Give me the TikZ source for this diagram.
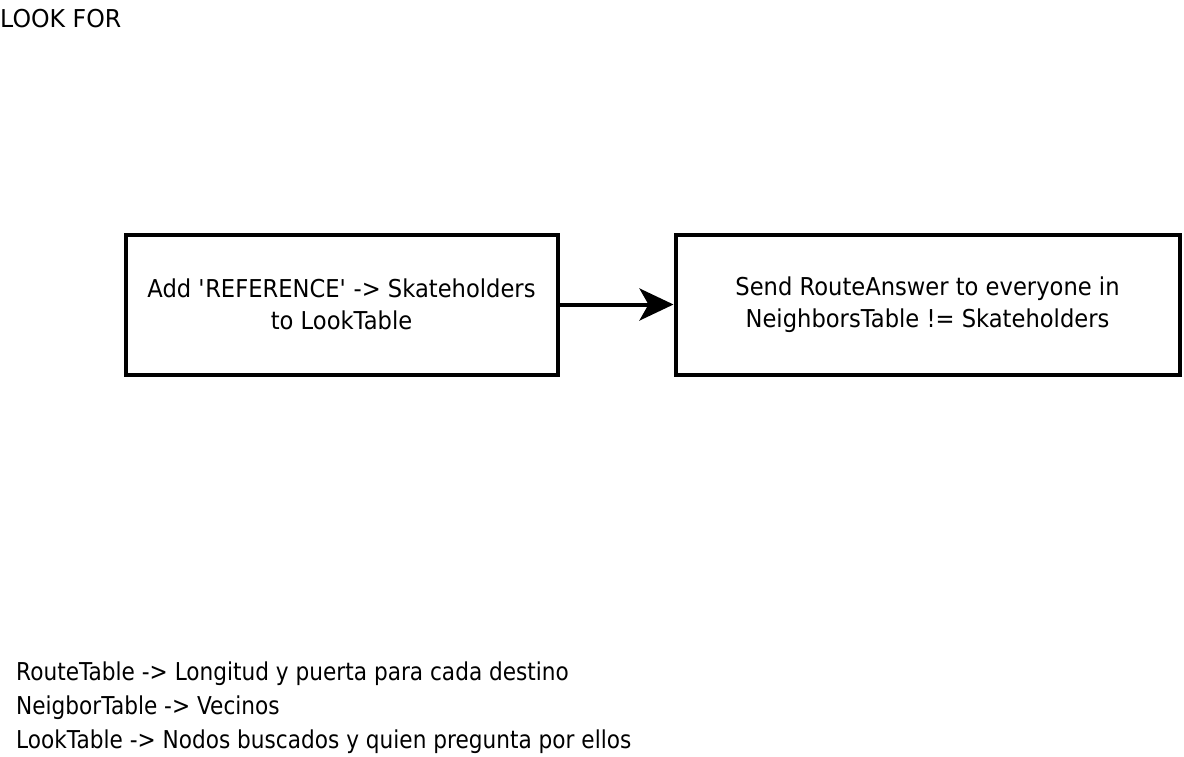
\documentclass[tikz,border=0pt]{standalone}
\usepackage{fontspec}
\setmainfont{DejaVu Sans}[FakeStretch=0.88]
\newfontfamily\boxfont{DejaVu Sans}[FakeStretch=0.92]
\newfontfamily\capsfont{DejaVu Sans}[FakeStretch=0.96]
\usetikzlibrary{arrows.meta,positioning}
\tikzset{
	stepbox/.style={draw=black,line width=4pt,align=center,inner sep=0pt,
		font=\boxfont\fontsize{24.6}{32}\selectfont},
	plain/.style={inner sep=0pt,anchor=base west}
}
\begin{document}
\begin{tikzpicture}[x=1pt,y=-1pt,line join=miter,font=\fontsize{24.6}{32}\selectfont]
	\fill [white] (0,0) rectangle (1184,757);
	\useasboundingbox (0,0) rectangle (1184,757);
	% title
	\node [plain,font=\capsfont\fontsize{24.6}{32}\selectfont] (title) at (0,28) {LOOK FOR};
	% steps
	\node [stepbox,minimum width=432pt,minimum height=140pt] (add) at (341.5,304.5)
		{Add \textquotesingle REFERENCE\textquotesingle{} -> Skateholders\\to LookTable};
	\node [stepbox,minimum width=504pt,minimum height=140pt] (send) at (927.5,304.5)
		{Send RouteAnswer to everyone in\\NeighborsTable != Skateholders};
	\draw [-{Stealth[length=34pt,width=32pt,inset=9pt]},line width=4pt] (add) -- (send);
	% legend
	\node [plain] (route) at (16,680) {RouteTable -> Longitud y puerta para cada destino};
	\node [plain] (neigh) at (16,714) {NeigborTable -> Vecinos};
	\node [plain] (look) at (16,748) {LookTable -> Nodos buscados y quien pregunta por ellos};
\end{tikzpicture}
\end{document}
